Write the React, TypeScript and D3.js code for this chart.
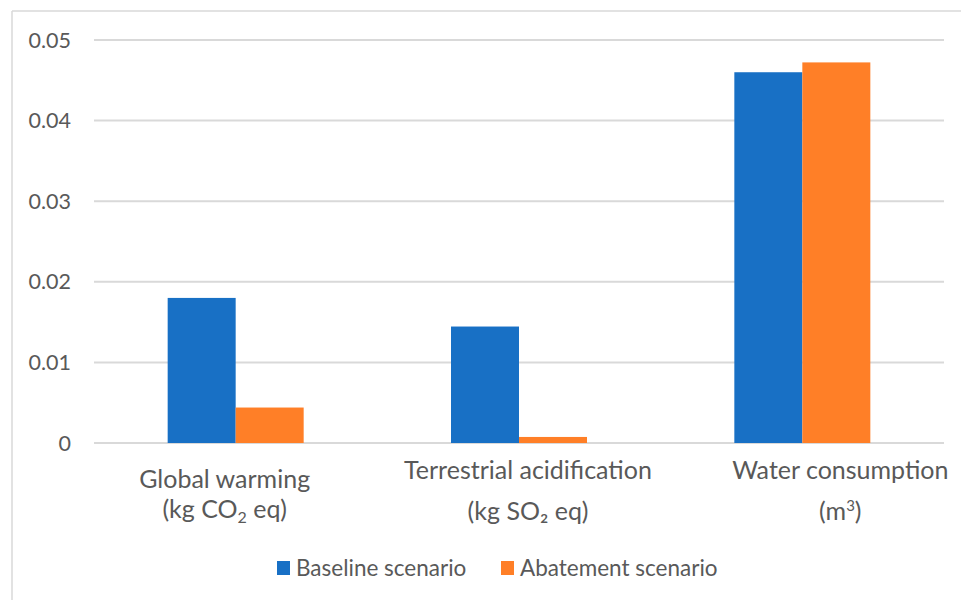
import React from "react";
import * as d3 from "d3";

// Impact categories and their two scenario results
const categories = ["Global warming", "Terrestrial acidification", "Water consumption"];
const baselineValues = [0.018, 0.01445, 0.046];
const abatementValues = [0.0044, 0.00075, 0.04722];
const seriesNames = ["Baseline scenario", "Abatement scenario"];
const yTicks = [0, 0.01, 0.02, 0.03, 0.04, 0.05];

const WIDTH = 961;
const HEIGHT = 600;
const COLORS = ["#1870C5", "#FF7F27"];
const GRID = "#D9D9D9";
const TEXT = "#595959";
const FONT = "Lato, 'Open Sans', sans-serif";

const plot = { left: 94, right: 944, top: 40, bottom: 443 };

export default function App() {
  const x = d3
    .scaleBand<string>()
    .domain(categories)
    .range([plot.left, plot.right])
    .paddingInner(0)
    .paddingOuter(0);

  const groupWidth = x.bandwidth() * 0.48;
  const inner = d3
    .scaleBand<string>()
    .domain(seriesNames)
    .range([0, groupWidth]);

  const y = d3.scaleLinear().domain([0, 0.05]).range([plot.bottom, plot.top]);

  const series = [baselineValues, abatementValues];

  // horizontal nudges for the two-line category captions
  const captionDx = [-11, 9, 38];
  const captionY1 = [488, 479, 479];
  const captionY2 = [518, 520, 520];

  const renderSecondLine = (i: number) => {
    if (i === 0)
      return (
        <>
          (kg CO
          <tspan fontSize={16} dy={5}>2</tspan>
          <tspan dy={-5}> eq)</tspan>
        </>
      );
    if (i === 1) return <>(kg SO₂ eq)</>;
    return (
      <>
        (m
        <tspan fontSize={15} dy={-9}>3</tspan>
        <tspan dy={9}>)</tspan>
      </>
    );
  };

  return (
    <svg
      width={WIDTH}
      height={HEIGHT}
      style={{ position: "absolute", left: 0, top: 0, background: "#fff" }}
      fontFamily={FONT}
    >
      <rect x={0} y={0} width={WIDTH} height={HEIGHT} fill="#fff" />
      {/* chart frame */}
      <line x1={12} x2={WIDTH} y1={11} y2={11} stroke={GRID} strokeWidth={1.5} />
      <line x1={12} x2={12} y1={11} y2={HEIGHT} stroke={GRID} strokeWidth={1.5} />

      {/* gridlines and tick labels */}
      {yTicks.map((t) => (
        <g key={t}>
          <line
            x1={plot.left}
            x2={plot.right}
            y1={y(t)}
            y2={y(t)}
            stroke={GRID}
            strokeWidth={2}
          />
          <text
            x={71}
            y={y(t) + 7.5}
            textAnchor="end"
            fontSize={21.5}
            fill={TEXT}
          >
            {t === 0 ? "0" : d3.format(".2f")(t)}
          </text>
        </g>
      ))}

      {/* bars */}
      {categories.map((c, i) => {
        const gx = (x(c) as number) + (x.bandwidth() - groupWidth) / 2;
        return (
          <g key={c}>
            {series.map((vals, s) => (
              <rect
                key={s}
                x={gx + (inner(seriesNames[s]) as number)}
                y={y(vals[i])}
                width={inner.bandwidth()}
                height={y(0) - y(vals[i])}
                fill={COLORS[s]}
              />
            ))}
          </g>
        );
      })}

      {/* category captions */}
      {categories.map((c, i) => {
        const cx = (x(c) as number) + x.bandwidth() / 2 + captionDx[i];
        return (
          <g key={c} fill={TEXT} fontSize={25} textAnchor="middle">
            <text x={cx} y={captionY1[i]}>{c}</text>
            <text x={cx} y={captionY2[i]}>{renderSecondLine(i)}</text>
          </g>
        );
      })}

      {/* legend */}
      {seriesNames.map((name, s) => {
        const lx = [277, 501][s];
        return (
          <g key={name}>
            <rect x={lx} y={561} width={13} height={14} fill={COLORS[s]} />
            <text x={lx + 19} y={576} fontSize={22.5} fill={TEXT}>
              {name}
            </text>
          </g>
        );
      })}
    </svg>
  );
}
